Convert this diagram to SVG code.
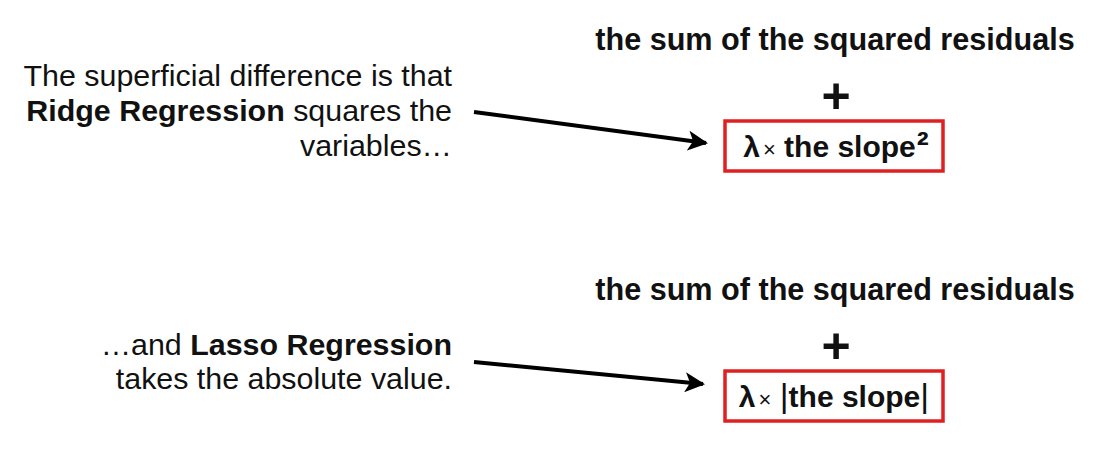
<svg xmlns="http://www.w3.org/2000/svg" width="1095" height="452" viewBox="0 0 1095 452">
<defs>
<style>
text{font-family:"Liberation Sans",Arial,sans-serif;fill:#111}
.lbl{font-size:30.4px;text-anchor:end}
.b{font-weight:bold}
.title{font-size:30.6px;font-weight:bold;text-anchor:middle}
.plus{font-size:50px;font-weight:bold;text-anchor:middle}
.box{fill:#fff;stroke:#e02020;stroke-width:3.5}
.term{font-size:30px;font-weight:bold;text-anchor:middle}
.x{font-size:22px;font-weight:normal}
.sq{font-size:36px}
.bar{font-weight:normal;font-size:34px}
.conn{stroke:#000;stroke-width:4;fill:none;marker-end:url(#ah)}
</style>
<marker id="ah" viewBox="0 0 10 10" refX="9" refY="5" markerWidth="5" markerHeight="5" orient="auto" markerUnits="strokeWidth">
<path d="M0,0 L10,5 L0,10 L2.5,5 Z" fill="#000"/>
</marker>
</defs>
<rect width="1095" height="452" fill="#fff"/>
<g id="ridge-text">
<text class="lbl" x="452" y="86">The superficial difference is that</text>
<text class="lbl" x="452" y="121"><tspan class="b">Ridge Regression</tspan> squares the</text>
<text class="lbl" x="452" y="156">variables…</text>
</g>
<g id="ridge-formula">
<text class="title" x="835" y="50">the sum of the squared residuals</text>
<text class="plus" x="836" y="113">+</text>
<rect class="box" x="725" y="121" width="218" height="50"/>
<text class="term" x="836" y="157">λ<tspan class="x" dx="3">×</tspan> the slope<tspan class="sq" dx="1">²</tspan></text>
</g>
<g id="lasso-text">
<text class="lbl" x="452" y="355">…and <tspan class="b">Lasso Regression</tspan></text>
<text class="lbl" x="452" y="389">takes the absolute value.</text>
</g>
<g id="lasso-formula">
<text class="title" x="835" y="300">the sum of the squared residuals</text>
<text class="plus" x="836" y="363">+</text>
<rect class="box" x="725" y="371" width="218" height="50"/>
<text class="term" x="834" y="407">λ<tspan class="x" dx="3">×</tspan> <tspan class="bar">|</tspan>the slope<tspan class="bar">|</tspan></text>
</g>
<g id="connectors">
<path class="conn" d="M474,112 L706,143"/>
<path class="conn" d="M474,362 L703,384"/>
</g>
</svg>
